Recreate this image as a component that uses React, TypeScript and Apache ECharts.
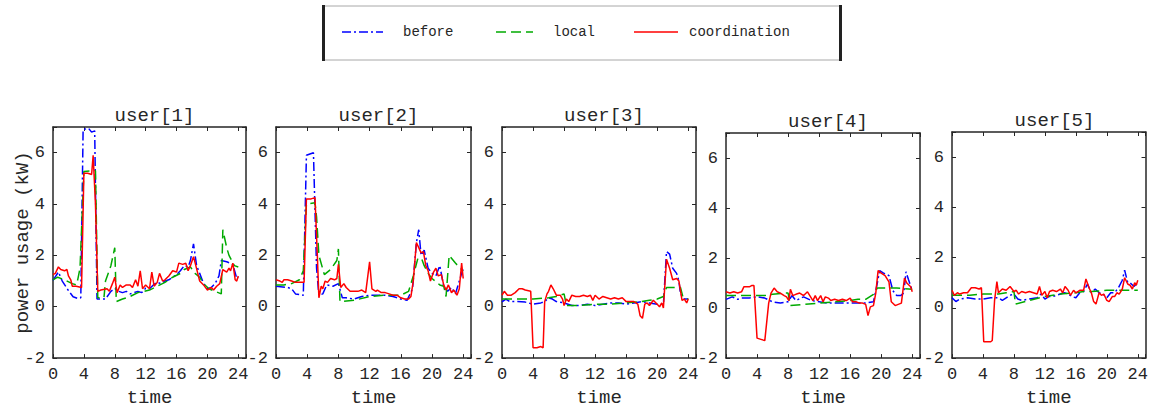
import React, { useEffect, useRef } from 'react';
import * as echarts from 'echarts';

// ---------- data (time in hours, power in kW) ----------
const xTicks = [0, 4, 8, 12, 16, 20, 24];
const yTicks = [-2, 0, 2, 4, 6];
const seriesNames = ['before', 'local', 'coordination'];
const userTitles = ['user[1]', 'user[2]', 'user[3]', 'user[4]', 'user[5]'];

const u1Before = [[0,1.03],[0.7,1.35],[1.2,1.0],[1.95,0.65],[2.6,0.39],[3.25,0.32],[3.6,0.35],[3.9,6.9],[4.6,6.95],[5.0,6.8],[5.4,6.85],[5.7,0.3],[6.8,0.3],[7.5,0.6],[8,0.72],[8.5,0.6],[9,0.55],[9.5,0.6],[10,0.5],[10.5,0.55],[11,0.6],[11.5,0.55],[12,0.72],[12.5,0.7],[13,0.85],[13.5,0.95],[14,0.9],[14.5,1.0],[15,1.05],[15.5,1.15],[16,1.25],[16.5,1.4],[17,1.6],[17.5,1.55],[17.8,1.8],[18.2,2.45],[18.6,1.6],[19,1.3],[19.5,0.9],[20,0.7],[20.5,0.75],[21,0.9],[21.5,1.2],[21.8,1.8],[22.5,1.75],[23.3,1.65],[23.8,1.1],[24,1.15]];
const u1Local = [[0,1.05],[0.6,1.15],[1.5,1.05],[2.5,0.9],[3.0,0.85],[3.2,1.05],[3.5,1.5],[4.0,5.27],[5.5,5.3],[5.8,0.35],[6.6,0.35],[6.8,1.0],[7.5,1.6],[8,2.3],[8.2,0.2],[9,0.3],[10,0.4],[11,0.55],[12.5,0.65],[13.5,0.8],[14.5,0.95],[15.5,1.15],[16.5,1.3],[17,1.45],[17.8,1.55],[18.4,1.3],[19,1.15],[19.5,0.9],[20.2,0.7],[21,0.6],[21.8,0.5],[22.0,3.0],[22.5,2.3],[22.8,2.0],[23.5,1.6],[24,1.55]];
const u1Coord = [[0,1.25],[0.3,1.3],[0.7,1.55],[1,1.45],[1.5,1.4],[1.8,1.45],[2.0,1.2],[2.3,1.05],[2.5,0.8],[3.0,0.8],[3.7,0.75],[4.0,5.2],[4.5,5.2],[5.0,5.15],[5.2,5.9],[5.5,4.0],[5.8,0.6],[6.2,0.65],[7,0.7],[7.3,0.6],[7.7,0.9],[8,1.15],[8.3,0.55],[8.7,0.85],[9,0.75],[9.5,0.85],[10,0.85],[10.3,0.75],[10.7,1.05],[11,0.8],[11.3,1.4],[11.6,0.7],[12,0.85],[12.5,0.7],[12.8,1.35],[13.1,0.8],[13.5,0.95],[13.8,1.3],[14.2,1.0],[14.5,1.05],[15,1.2],[15.5,1.4],[16,1.35],[16.3,1.7],[16.8,1.65],[17.2,1.7],[17.5,1.4],[17.8,1.6],[18.2,1.95],[18.5,1.6],[19,1.0],[19.5,0.85],[20,0.65],[20.5,0.75],[20.8,0.65],[21.2,0.8],[21.6,0.9],[22,1.45],[22.5,1.35],[22.8,1.5],[23,1.4],[23.3,1.7],[23.6,1.05],[23.8,1.0],[24,1.2]];

const u2Before = [[0,0.8],[1.5,0.75],[2,0.7],[2.5,0.5],[3.5,0.45],[3.9,5.9],[4.8,6.0],[5.2,1.5],[5.5,0.45],[6,0.5],[6.5,0.85],[7.3,0.8],[8,0.9],[8.5,0.35],[9,0.35],[10,0.3],[11,0.4],[12,0.45],[13,0.45],[14,0.45],[15,0.4],[16,0.3],[16.8,0.25],[17.5,0.7],[18,2.5],[18.3,3.0],[18.6,2.0],[19,2.2],[19.5,1.5],[20,1.3],[20.5,1.2],[21,1.6],[21.5,0.8],[22,0.6],[22.5,0.75],[23,0.5],[23.5,1.0],[24,1.5]];
const u2Local = [[0,0.85],[1,0.85],[2,0.9],[3,1.05],[3.5,1.4],[3.9,4.0],[5,4.05],[5.2,3.5],[5.5,2.0],[6.2,1.25],[7,1.45],[7.8,1.8],[8,2.25],[8.2,0.2],[10,0.25],[12,0.4],[14,0.45],[16,0.45],[17,0.6],[17.6,1.2],[18.2,1.9],[18.7,1.85],[19,1.6],[19.5,1.3],[20,1.1],[21,0.85],[21.5,0.8],[21.8,0.4],[22.2,2.0],[23,1.7],[23.8,1.45],[24,1.4]];
const u2Coord = [[0,1.05],[0.5,1.0],[0.8,0.95],[1,1.05],[1.5,1.05],[2,1.0],[2.5,0.95],[3,0.95],[3.6,0.95],[3.9,4.2],[4.5,4.2],[5,4.25],[5.3,2.0],[5.5,0.35],[5.8,0.8],[6,0.7],[6.3,1.0],[6.6,0.95],[7,1.1],[7.5,1.05],[7.8,1.1],[8,1.65],[8.3,0.75],[8.7,0.9],[9,0.75],[9.5,0.6],[10,0.6],[10.5,0.6],[11,0.65],[11.5,0.55],[12,1.75],[12.3,0.7],[12.8,0.6],[13,0.65],[13.5,0.55],[14,0.55],[14.5,0.5],[15,0.45],[15.5,0.45],[16,0.35],[16.5,0.3],[17,0.3],[17.3,0.4],[17.6,1.0],[18,2.5],[18.3,2.3],[18.6,2.1],[18.9,2.15],[19.2,1.6],[19.5,1.4],[19.8,1.0],[20.2,1.35],[20.5,1.5],[20.8,1.2],[21.2,1.25],[21.5,0.85],[21.8,0.65],[22.1,0.85],[22.5,0.55],[22.8,0.65],[23.2,0.45],[23.5,0.7],[23.8,1.7],[24,1.1]];

const u3Before = [[0,0.19],[0.5,0.3],[1,0.2],[2,0.2],[3,0.18],[4,0.1],[5,0.15],[5.5,0.2],[6,0.35],[6.5,0.3],[7,0.2],[8,0.15],[9,0.05],[10,0.05],[11,0.1],[12,0.05],[13,0.1],[14,0.15],[15,0.15],[16,0.1],[17,0.15],[18,0.2],[19,0.15],[20,0.1],[20.8,0.1],[21.2,2.15],[21.6,2.05],[22,1.5],[22.5,1.3],[22.8,1.0],[23,0.5],[23.5,0.3],[24,0.3]];
const u3Local = [[0,0.3],[2.3,0.3],[3.5,0.3],[4,0.3],[6,0.35],[7,0.4],[8,0.5],[8.3,0.05],[10,0.05],[12,0.1],[14,0.1],[16,0.15],[18,0.2],[19,0.25],[20,0.3],[20.8,0.4],[21.2,0.75],[23,0.75],[23.3,0.4],[24,0.3]];
const u3Coord = [[0,0.45],[0.3,0.6],[0.7,0.45],[1.2,0.45],[1.7,0.55],[2.2,0.7],[2.6,0.7],[3,0.65],[3.7,0.6],[4,-1.6],[4.5,-1.6],[5,-1.55],[5.3,-1.6],[5.5,0.2],[5.8,0.5],[6,0.6],[6.3,0.85],[6.6,0.7],[7,0.45],[7.5,0.45],[7.8,0.3],[8,0.05],[8.3,0.3],[8.6,0.2],[9,0.45],[9.5,0.4],[10,0.4],[10.5,0.45],[11,0.4],[11.4,0.45],[11.7,0.25],[12,0.45],[12.5,0.3],[13,0.4],[13.5,0.35],[14,0.3],[14.5,0.35],[15,0.3],[15.5,0.35],[16,0.2],[16.5,0.2],[17,0.2],[17.5,0.1],[17.8,-0.35],[18.1,-0.45],[18.4,0.1],[18.7,0.15],[19,0.05],[19.5,0.25],[20,0.1],[20.3,0.0],[20.6,0.15],[20.8,-0.05],[21.2,1.85],[21.6,1.5],[22,1.05],[22.5,1.1],[22.8,1.0],[23.2,0.25],[23.5,0.3],[23.8,0.15],[24,0.3]];

const u4Before = [[0,0.35],[0.8,0.45],[1.5,0.35],[2,0.4],[3,0.4],[4,0.45],[5,0.4],[6,0.25],[7,0.2],[8,0.25],[8.5,0.5],[9,0.3],[10,0.45],[11,0.3],[12,0.25],[13,0.2],[14,0.2],[15,0.2],[16,0.2],[17,0.2],[18,0.2],[19,0.25],[19.5,1.0],[19.8,1.5],[20.3,1.4],[21,1.3],[21.5,0.7],[22,0.5],[22.5,0.5],[22.9,0.6],[23.2,1.45],[23.5,1.15],[24,0.7]];
const u4Local = [[0,0.5],[2,0.5],[3,0.5],[5,0.5],[6,0.55],[7.5,0.6],[8,0.6],[8.3,0.1],[10,0.15],[12,0.2],[14,0.25],[16,0.3],[17,0.35],[18,0.35],[19,0.55],[19.5,0.8],[21,0.8],[22,0.8],[24,0.75]];
const u4Coord = [[0,0.65],[0.5,0.6],[1,0.65],[1.5,0.6],[2,0.65],[2.3,0.85],[3,0.85],[3.3,0.9],[3.6,0.9],[4,-1.2],[4.5,-1.25],[5,-1.3],[5.5,0.2],[5.8,0.6],[6.2,0.8],[6.6,0.65],[7,0.6],[7.5,0.5],[7.8,0.45],[8.1,0.3],[8.3,0.75],[8.6,0.5],[9,0.55],[9.5,0.6],[10,0.5],[10.5,0.65],[10.8,0.5],[11.2,0.3],[11.5,0.5],[11.8,0.3],[12.2,0.5],[12.5,0.25],[12.8,0.45],[13.2,0.4],[13.5,0.3],[14,0.35],[14.5,0.3],[15,0.35],[15.5,0.3],[16,0.4],[16.3,0.25],[16.8,0.25],[17.2,0.2],[17.6,0.2],[18,0.15],[18.3,-0.3],[18.6,0.05],[19,0.1],[19.3,0.6],[19.6,1.5],[20,1.4],[20.5,1.3],[21,1.05],[21.3,0.25],[21.8,0.1],[22.2,0.15],[22.6,0.2],[23,1.2],[23.3,1.0],[23.8,0.85],[24,0.65]];

const u5Before = [[0,0.4],[0.5,0.25],[1,0.35],[2,0.4],[3,0.35],[4,0.35],[5,0.4],[6,0.4],[6.5,0.3],[7,0.4],[7.5,0.5],[8,0.55],[8.5,0.35],[9,0.3],[10,0.35],[11,0.4],[11.5,0.55],[12,0.35],[12.5,0.45],[13,0.45],[13.5,0.5],[14,0.55],[14.5,0.6],[15,0.55],[15.5,0.45],[16,0.4],[16.5,0.6],[17,0.65],[17.5,0.95],[18,0.6],[18.5,0.75],[19,0.6],[19.5,0.55],[20,0.4],[20.5,0.6],[21,0.6],[21.5,0.8],[22,1.1],[22.3,1.5],[22.7,1.0],[23,1.0],[23.5,0.85],[24,1.0]];
const u5Local = [[0,0.5],[2.3,0.5],[4,0.55],[6,0.55],[7,0.6],[8,0.65],[8.2,0.15],[10,0.3],[12,0.45],[14,0.55],[16,0.6],[17,0.65],[18,0.65],[20,0.7],[22,0.7],[24,0.7]];
const u5Coord = [[0,0.7],[0.3,0.5],[0.7,0.6],[1,0.55],[1.5,0.6],[2,0.6],[2.5,0.8],[3,0.8],[3.5,0.75],[3.8,0.8],[4.1,-1.35],[5,-1.35],[5.2,-1.3],[5.5,0.3],[5.8,1.05],[6,0.6],[6.5,0.75],[7,0.7],[7.5,0.85],[8,0.65],[8.3,0.7],[8.6,0.55],[9,0.65],[9.5,0.6],[10,0.65],[10.5,0.6],[11,0.55],[11.3,0.85],[11.6,0.5],[12,0.65],[12.3,0.4],[12.6,0.65],[13,0.7],[13.5,0.65],[14,0.75],[14.3,0.6],[14.6,0.85],[15,0.7],[15.3,0.5],[15.7,0.7],[16,0.6],[16.5,0.7],[17,0.7],[17.3,1.15],[17.7,0.8],[18,0.6],[18.3,0.25],[18.6,0.15],[19,0.6],[19.3,0.5],[19.6,0.55],[20,0.3],[20.3,0.25],[20.7,0.45],[21,0.45],[21.3,0.6],[21.6,0.55],[22,0.75],[22.3,1.2],[22.7,0.95],[23,0.9],[23.3,0.75],[23.6,1.0],[23.8,0.9],[24,1.1]];

const beforeData = [u1Before, u2Before, u3Before, u4Before, u5Before];
const localData = [u1Local, u2Local, u3Local, u4Local, u5Local];
const coordData = [u1Coord, u2Coord, u3Coord, u4Coord, u5Coord];

// ---------- layout & style ----------
const FONT = '"Liberation Mono", "DejaVu Sans Mono", monospace';
const INK = '#262626';
const COLORS = ['#0000ff', '#00aa00', '#ff0000'];
const DASHES: any[] = [[9, 3, 2, 3], [10, 5], 'solid'];
const boxes = [
  { l: 53, t: 127, w: 193, h: 232, ty: 116 },
  { l: 276, t: 127, w: 195, h: 232, ty: 116 },
  { l: 502, t: 127, w: 194, h: 232, ty: 116 },
  { l: 726, t: 133, w: 194, h: 233, ty: 122 },
  { l: 952, t: 132, w: 195, h: 233, ty: 121 },
];

function buildOption() {
  const grid: any[] = [];
  const xAxis: any[] = [];
  const yAxis: any[] = [];
  const series: any[] = [];
  const graphic: any[] = [];
  const axisLine = { show: true, onZero: false, lineStyle: { color: INK, width: 1.5 } };
  const tick = { show: true, inside: true, length: 4, lineStyle: { color: INK, width: 1 } };

  boxes.forEach((b, i) => {
    grid.push({ left: b.l, top: b.t, width: b.w, height: b.h, containLabel: false });
    xAxis.push({
      type: 'value', gridIndex: i, min: 0, max: 25, interval: 4, position: 'bottom',
      axisLine, axisTick: tick, splitLine: { show: false },
      axisLabel: {
        fontFamily: FONT, fontSize: 17, color: INK, margin: 8,
        formatter: (v: number) => (xTicks.includes(v) ? String(v) : ''),
      },
      name: 'time', nameLocation: 'middle', nameGap: 26,
      nameTextStyle: { fontFamily: FONT, fontSize: 19, color: INK },
    });
    xAxis.push({
      type: 'value', gridIndex: i, min: 0, max: 25, interval: 4, position: 'top',
      axisLine, axisTick: tick, splitLine: { show: false }, axisLabel: { show: false },
    });
    yAxis.push({
      type: 'value', gridIndex: i, min: -2, max: 7, interval: 2, position: 'left',
      axisLine, axisTick: tick, splitLine: { show: false },
      axisLabel: {
        fontFamily: FONT, fontSize: 17, color: INK, margin: 8,
        formatter: (v: number) => (yTicks.includes(v) ? String(v) : ''),
      },
      name: i === 0 ? 'power usage (kW)' : '', nameLocation: 'middle', nameGap: 21,
      nameMoveOverlap: false,
      nameTextStyle: { fontFamily: FONT, fontSize: 19, color: INK },
    });
    yAxis.push({
      type: 'value', gridIndex: i, min: -2, max: 7, interval: 2, position: 'right',
      axisLine, axisTick: tick, splitLine: { show: false }, axisLabel: { show: false },
    });
    const sets = [beforeData[i], localData[i], coordData[i]];
    sets.forEach((d, k) => {
      series.push({
        name: seriesNames[k], type: 'line', xAxisIndex: 2 * i, yAxisIndex: 2 * i,
        data: d, symbol: 'none', showSymbol: false, z: 2 + k,
        lineStyle: { color: COLORS[k], width: 1.5, type: DASHES[k] },
        itemStyle: { color: COLORS[k] },
      });
    });
    graphic.push({
      type: 'text', x: b.l + b.w / 2 + 5, y: b.ty,
      style: { text: userTitles[i], fontFamily: FONT, fontSize: 19, fill: INK, align: 'center', verticalAlign: 'middle' },
    });
  });

  // legend box
  graphic.push({ type: 'rect', shape: { x: 323, y: 6, width: 518, height: 54 }, style: { fill: '#fff', stroke: '#a8a8a8', lineWidth: 1 } });
  graphic.push({ type: 'rect', shape: { x: 322, y: 5, width: 3, height: 56 }, style: { fill: '#222' } });
  graphic.push({ type: 'rect', shape: { x: 839, y: 5, width: 3, height: 56 }, style: { fill: '#222' } });
  const legendLines = [[342, 383], [496, 533], [634, 678]];
  const legendTextX = [403, 553, 689];
  for (let k = 0; k < 3; k++) {
    graphic.push({
      type: 'line', shape: { x1: legendLines[k][0], y1: 32, x2: legendLines[k][1], y2: 32 },
      style: { stroke: COLORS[k], lineWidth: 1.5, lineDash: k === 2 ? null : DASHES[k] },
    });
    graphic.push({
      type: 'text', x: legendTextX[k], y: 32,
      style: { text: seriesNames[k], fontFamily: FONT, fontSize: 14, fill: INK, align: 'left', verticalAlign: 'middle' },
    });
  }

  return { animation: false, backgroundColor: '#fff', grid, xAxis, yAxis, series, graphic };
}

export default function App() {
  const ref = useRef<HTMLDivElement>(null);
  useEffect(() => {
    const chart = echarts.init(ref.current!, null, { renderer: 'svg' });
    chart.setOption(buildOption());
    return () => chart.dispose();
  }, []);
  return <div ref={ref} style={{ position: 'absolute', left: 0, top: 0, width: 1151, height: 412 }} />;
}
